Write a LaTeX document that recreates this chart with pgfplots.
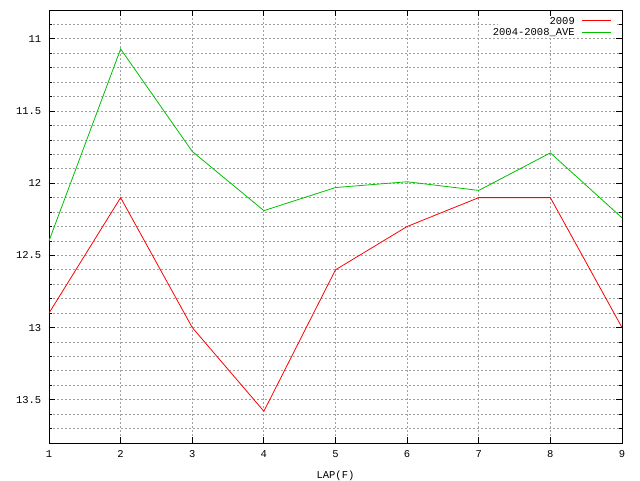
\documentclass[border=0pt]{standalone}
\usepackage{fontspec}
\setmainfont{Liberation Mono}
\usepackage{pgfplots}
\pgfplotsset{compat=1.18}
\definecolor{gpgreen}{RGB}{0,192,0}
\definecolor{gpgrid}{RGB}{160,160,160}
\begin{document}
\fontsize{10.5}{12}\selectfont
\begin{tikzpicture}[x=1pt,y=1pt]
\path[use as bounding box] (0,0) rectangle (640,480);
\begin{axis}[
    at={(49pt,37pt)}, anchor=south west,
    width=573pt, height=433pt, scale only axis,
    xmin=1, xmax=9, ymin=10.8, ymax=13.8,
    y dir=reverse,
    xtick={1,...,9},
    minor x tick num=0,
    ytick={11,11.5,12,12.5,13,13.5},
    minor ytick={10.8,10.9,...,13.8},
    yticklabels={11,11.5,12,12.5,13,13.5},
    xmajorgrids=true, xminorgrids=false,
    ymajorgrids=true, yminorgrids=true,
    major grid style={gpgrid, dash pattern=on 2pt off 2pt, line width=0.8pt},
    minor grid style={gpgrid, dash pattern=on 2pt off 2pt, line width=0.8pt},
    tick style={black, line width=0.8pt},
    major tick length=6pt, minor tick length=3pt,
    tick align=inside,
    axis line style={black, line width=0.8pt},
    xlabel={LAP(F)},
    xlabel style={at={(axis description cs:0.5,0)}, anchor=north, yshift=-24pt},
    xticklabel style={yshift=-4pt},
    yticklabel style={xshift=-4pt},
    /pgf/number format/assume math mode=true,
]
\addplot[red, line width=0.8pt] coordinates {
 (1,12.9) (2,12.1) (3,13.0) (4,13.58) (5,12.6) (6,12.3) (7,12.1) (8,12.1) (9,13.0)};
\addplot[gpgreen, line width=0.8pt] coordinates {
 (1,12.4) (2,11.07) (3,11.78) (4,12.19) (5,12.03) (6,11.99) (7,12.05) (8,11.79) (9,12.24)};
\end{axis}
% legend (text right-aligned, sample line on the right)
\fill[white] (498,442) rectangle (616,463);
\node[anchor=east, inner sep=0pt] at (575,459) {2009};
\draw[red, line width=1pt] (582,459) -- (611,459);
\node[anchor=east, inner sep=0pt] at (575,447) {2004-2008\_AVE};
\draw[gpgreen, line width=1pt] (582,447) -- (611,447);
\end{tikzpicture}
\end{document}
